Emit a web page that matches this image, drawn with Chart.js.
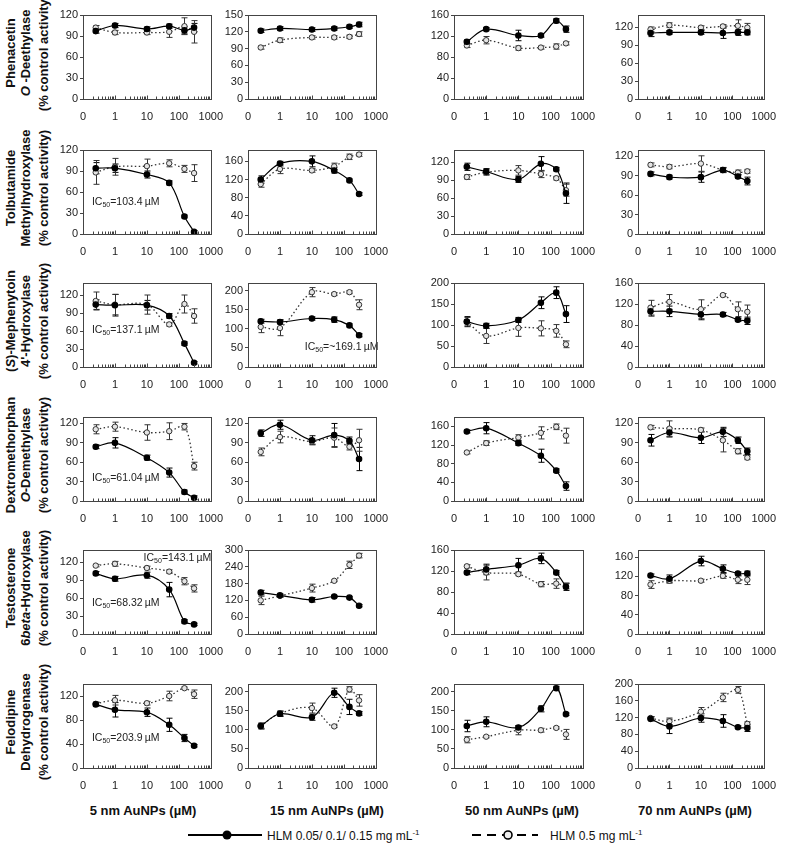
<!DOCTYPE html>
<html>
<head>
<meta charset="utf-8">
<script src="https://cdn.jsdelivr.net/npm/chart.js@4.4.1/dist/chart.umd.min.js"></script>
<style>
body { margin: 0; background: #fff; width: 785px; height: 845px; position: relative; overflow: hidden;
       font-family: "Liberation Sans", Arial, sans-serif; color: #111; }
canvas { position: absolute; }
.rowlab, .ylab { position: absolute; transform: translate(-50%, -50%) rotate(-90deg); white-space: nowrap;
       text-align: center; font-weight: bold; font-size: 13px; line-height: 15px; }
.collab { position: absolute; transform: translate(-50%, -50%); font-weight: bold; font-size: 13px; white-space: nowrap; }
.legend { position: absolute; top: 826px; height: 18px; font-size: 12px; white-space: nowrap; }
.legend svg { position: absolute; top: 0; }
.legend span { position: absolute; top: 2px; }
sup { font-size: 8px; }
</style>
</head>
<body>
<div class="legend" style="left:186px">
  <svg width="80" height="18"><line x1="2" y1="9" x2="76" y2="9" stroke="#000" stroke-width="2"/><circle cx="41" cy="9" r="4.5" fill="#000"/></svg>
  <span style="left:81px">HLM 0.05/ 0.1/ 0.15 mg mL<sup>-1</sup></span>
</div>
<div class="legend" style="left:470px">
  <svg width="72" height="18"><line x1="2" y1="9" x2="68" y2="9" stroke="#000" stroke-width="2" stroke-dasharray="9 6"/><circle cx="38" cy="9" r="4" fill="#eee" stroke="#000" stroke-width="1.6"/></svg>
  <span style="left:80px">HLM 0.5 mg mL<sup>-1</sup></span>
</div>
<script>
// concentrations (µM) and axis labels
const conc = [0.25, 1, 10, 50, 150, 300];
const xTicks = [0.1, 1, 10, 100, 1000];
const rowNames = [
    ['Phenacetin', '<i>O</i> -Deethylase'],
    ['Tolbutamide', 'Methylhydroxylase'],
    ['(<i>S</i>)-Mephenytoin', "4'-Hydroxylase"],
    ['Dextromethorphan', '<i>O</i>-Demethylase'],
    ['Testosterone', '6<i>beta</i>-Hydroxylase'],
    ['Felodipine', 'Dehydrogenase']
];
const colNames = ['5 nm AuNPs (µM)', '15 nm AuNPs (µM)', '50 nm AuNPs (µM)', '70 nm AuNPs (µM)'];
const yMax = [[120, 150, 160, 140], [120, 185, 140, 130], [140, 220, 200, 160],
              [130, 130, 180, 130], [140, 300, 160, 175], [140, 220, 220, 200]];
const yStep = [[30, 30, 40, 30], [30, 40, 30, 30], [30, 50, 50, 40],
               [30, 30, 40, 30], [30, 60, 40, 40], [40, 50, 50, 40]];

// HLM 0.05/0.1/0.15 mg/mL (solid) and 0.5 mg/mL (open) -- one inner array per particle size
const phenacetinLow = [[97, 105, 100, 104, 98, 102], [122, 126, 124, 126, 129, 133], [109, 133, 121, 121, 149, 133], [110, 111, 111, 110, 111, 111]];
const phenacetinLowErr = [[3, 3, 3, 3, 5, 6], [3, 3, 3, 3, 3, 4], [4, 3, 10, 3, 4, 6], [6, 3, 3, 9, 5, 4]];
const phenacetinHigh = [[102, 95, 95, 96, 104, 96], [92, 105, 110, 110, 111, 116], [102, 112, 97, 98, 100, 106], [116, 123, 119, 121, 122, 119]];
const phenacetinHighErr = [[3, 3, 3, 8, 12, 16], [3, 4, 3, 3, 3, 4], [4, 7, 4, 3, 5, 3], [4, 4, 3, 3, 10, 7]];

const tolbutamideLow = [[94, 94, 85, 73, 25, 3], [120, 155, 160, 140, 118, 88], [112, 104, 91, 117, 108, 68], [93, 88, 88, 99, 89, 82]];
const tolbutamideLowErr = [[8, 6, 5, 3, 2, 2], [8, 5, 12, 6, 3, 3], [6, 5, 5, 12, 3, 17], [3, 3, 8, 4, 3, 6]];
const tolbutamideHigh = [[88, 96, 97, 101, 93, 87], [110, 143, 140, 149, 170, 175], [95, 103, 106, 100, 93, 73], [107, 104, 109, 99, 95, 97]];
const tolbutamideHighErr = [[17, 12, 10, 5, 5, 12], [7, 10, 4, 7, 6, 4], [4, 5, 8, 6, 3, 10], [3, 3, 12, 3, 4, 3]];

const mephenytoinLow = [[104, 103, 103, 85, 39, 7], [120, 118, 127, 124, 109, 83], [108, 98, 112, 153, 177, 126], [106, 106, 100, 100, 90, 88]];
const mephenytoinLowErr = [[8, 18, 8, 4, 3, 2], [5, 6, 4, 7, 4, 4], [12, 6, 6, 14, 14, 20], [9, 10, 10, 4, 3, 7]];
const mephenytoinHigh = [[110, 104, 104, 71, 105, 85], [105, 102, 196, 191, 196, 163], [108, 74, 93, 92, 86, 54], [113, 124, 110, 137, 110, 105]];
const mephenytoinHighErr = [[15, 17, 16, 3, 15, 12], [15, 20, 12, 4, 4, 13], [10, 18, 20, 18, 15, 8], [14, 14, 18, 3, 14, 13]];

const dextroLow = [[84, 90, 67, 44, 14, 5], [105, 118, 94, 102, 93, 65], [149, 156, 124, 97, 65, 32], [94, 106, 98, 107, 94, 77]];
const dextroLowErr = [[3, 8, 4, 7, 3, 3], [5, 7, 7, 18, 6, 18], [3, 12, 5, 14, 4, 9], [9, 7, 9, 7, 5, 5]];
const dextroHigh = [[111, 115, 106, 108, 115, 54], [76, 99, 92, 98, 84, 94], [104, 124, 136, 146, 159, 140], [114, 112, 110, 94, 77, 67]];
const dextroHighErr = [[7, 7, 12, 13, 5, 6], [6, 9, 4, 15, 5, 17], [3, 5, 6, 13, 6, 16], [3, 12, 3, 18, 4, 3]];

const testosteroneLow = [[101, 92, 98, 74, 21, 16], [148, 138, 122, 134, 130, 101], [117, 123, 131, 144, 117, 90], [122, 115, 152, 136, 126, 126]];
const testosteroneLowErr = [[3, 4, 5, 12, 3, 2], [8, 5, 8, 4, 4, 4], [4, 10, 13, 10, 4, 7], [3, 8, 10, 8, 3, 5]];
const testosteroneHigh = [[114, 117, 110, 104, 88, 76], [120, 136, 164, 190, 247, 280], [129, 117, 114, 95, 96, 91], [103, 111, 111, 121, 113, 113]];
const testosteroneHighErr = [[2, 4, 3, 3, 6, 6], [15, 5, 14, 3, 13, 8], [3, 14, 3, 5, 9, 5], [8, 5, 3, 5, 8, 10]];

const felodipineLow = [[106, 97, 93, 72, 50, 37], [110, 142, 133, 197, 160, 143], [110, 121, 106, 155, 209, 141], [117, 99, 119, 112, 97, 95]];
const felodipineLowErr = [[3, 12, 7, 11, 6, 2], [8, 7, 8, 12, 20, 5], [15, 13, 5, 8, 5, 3], [5, 17, 10, 15, 3, 8]];
const felodipineHigh = [[107, 113, 108, 120, 133, 123], [110, 143, 157, 109, 206, 177], [74, 82, 99, 99, 105, 88], [119, 111, 134, 168, 186, 105]];
const felodipineHighErr = [[3, 8, 3, 8, 2, 7], [6, 6, 13, 3, 7, 15], [8, 3, 12, 5, 3, 13], [3, 8, 10, 10, 8, 5]];

// IC50 notes: panel row/col, anchor in data units, value
const ic50Notes = [
    { row: 1, col: 0, x: 0.19, y: 45, text: '=103.4\u2009µM' },
    { row: 2, col: 0, x: 0.19, y: 62, text: '=137.1\u2009µM' },
    { row: 2, col: 1, x: 6.0, y: 53, text: '=~169.1\u2009µM' },
    { row: 3, col: 0, x: 0.19, y: 36, text: '=61.04\u2009µM' },
    { row: 4, col: 0, x: 7.9, y: 126, text: '=143.1\u2009µM' },
    { row: 4, col: 0, x: 0.19, y: 52, text: '=68.32\u2009µM' },
    { row: 5, col: 0, x: 0.19, y: 50, text: '=203.9\u2009µM' }
];

const lowRows = [phenacetinLow, tolbutamideLow, mephenytoinLow, dextroLow, testosteroneLow, felodipineLow];
const lowErrRows = [phenacetinLowErr, tolbutamideLowErr, mephenytoinLowErr, dextroLowErr, testosteroneLowErr, felodipineLowErr];
const highRows = [phenacetinHigh, tolbutamideHigh, mephenytoinHigh, dextroHigh, testosteroneHigh, felodipineHigh];
const highErrRows = [phenacetinHighErr, tolbutamideHighErr, mephenytoinHighErr, dextroHighErr, testosteroneHighErr, felodipineHighErr];

// panel geometry
const PAD_T = 10, PAD_R = 16, Y_W = 30, X_H = 26;
const boxLeft = [83, 248, 454, 638];
const boxWidth = [135, 135, 136, 133];
const boxTop = [15, 150, 283, 417, 550, 684];
const boxHeight = 84;
const FONT = '"Liberation Sans", Arial, sans-serif';

Chart.defaults.font.family = FONT;
Chart.defaults.font.size = 11;
Chart.defaults.color = '#222';

// vertical error bars, drawn under the markers
const errorBars = {
    id: 'errorBars',
    beforeDatasetsDraw(chart) {
        const { ctx, scales: { x, y } } = chart;
        chart.data.datasets.forEach(ds => {
            ctx.save();
            ctx.strokeStyle = ds.borderColor;
            ctx.lineWidth = 1;
            ctx.beginPath();
            ds.data.forEach((p, i) => {
                const e = ds.err[i];
                const px = Math.round(x.getPixelForValue(p.x)) + 0.5;
                const top = y.getPixelForValue(p.y + e);
                const bot = y.getPixelForValue(p.y - e);
                ctx.moveTo(px, top); ctx.lineTo(px, bot);
                ctx.moveTo(px - 3, top); ctx.lineTo(px + 3, top);
                ctx.moveTo(px - 3, bot); ctx.lineTo(px + 3, bot);
            });
            ctx.stroke();
            ctx.restore();
        });
    }
};

// box around the plot and inward log minor ticks
const frame = {
    id: 'frame',
    afterDraw(chart) {
        const { ctx, chartArea: a, scales: { x } } = chart;
        const l = Math.round(a.left) + 0.5, t = Math.round(a.top) + 0.5;
        const r = Math.round(a.right) + 0.5, b = Math.round(a.bottom) + 0.5;
        ctx.save();
        ctx.strokeStyle = '#444';
        ctx.lineWidth = 1;
        ctx.strokeRect(l, t, r - l, b - t);
        ctx.beginPath();
        for (let d = -1; d < 3; d++) {
            for (let k = 1; k < 10; k++) {
                const px = Math.round(x.getPixelForValue(k * Math.pow(10, d))) + 0.5;
                ctx.moveTo(px, b);
                ctx.lineTo(px, b - (k === 1 ? 4 : 3));
            }
        }
        ctx.stroke();
        ctx.restore();
    }
};

function notesPlugin(notes) {
    return {
        id: 'ic50',
        afterDatasetsDraw(chart) {
            const { ctx, scales: { x, y } } = chart;
            ctx.save();
            ctx.fillStyle = '#222';
            ctx.textBaseline = 'middle';
            notes.forEach(n => {
                const px = x.getPixelForValue(n.x), py = y.getPixelForValue(n.y);
                ctx.font = '10.5px ' + FONT;
                ctx.fillText('IC', px, py);
                let w = ctx.measureText('IC').width;
                ctx.font = '7px ' + FONT;
                ctx.fillText('50', px + w, py + 3);
                w += ctx.measureText('50').width;
                ctx.font = '10.5px ' + FONT;
                ctx.fillText(n.text, px + w, py);
            });
            ctx.restore();
        }
    };
}

function makePanel(r, c) {
    const cv = document.createElement('canvas');
    cv.width = Y_W + boxWidth[c] + PAD_R;
    cv.height = PAD_T + boxHeight + X_H;
    cv.style.left = (boxLeft[c] - Y_W) + 'px';
    cv.style.top = (boxTop[r] - PAD_T) + 'px';
    document.body.appendChild(cv);

    const low = lowRows[r][c], high = highRows[r][c];
    new Chart(cv, {
        type: 'line',
        data: {
            datasets: [{
                label: 'HLM 0.05/ 0.1/ 0.15 mg mL-1',
                data: conc.map((v, i) => ({ x: v, y: low[i] })),
                err: lowErrRows[r][c],
                borderColor: '#000',
                borderWidth: 1.2,
                tension: 0.35,
                pointRadius: 2.7,
                pointBackgroundColor: '#000',
                pointBorderColor: '#000'
            }, {
                label: 'HLM 0.5 mg mL-1',
                data: conc.map((v, i) => ({ x: v, y: high[i] })),
                err: highErrRows[r][c],
                borderColor: '#333',
                borderWidth: 1.3,
                borderDash: [1.5, 2.5],
                tension: 0.35,
                pointRadius: 2.7,
                pointBorderWidth: 1,
                pointBackgroundColor: '#e4e4e4',
                pointBorderColor: '#333'
            }]
        },
        options: {
            responsive: false,
            animation: false,
            events: [],
            layout: { padding: { top: PAD_T, right: PAD_R, left: 0, bottom: 0 } },
            plugins: { legend: { display: false }, tooltip: { enabled: false } },
            scales: {
                x: {
                    type: 'logarithmic',
                    min: 0.1,
                    max: 1000,
                    afterBuildTicks: s => { s.ticks = xTicks.map(v => ({ value: v })); },
                    afterFit: s => { s.height = X_H; },
                    grid: { display: false, drawTicks: false },
                    border: { color: '#444' },
                    ticks: {
                        autoSkip: false,
                        maxRotation: 0,
                        padding: 11,
                        callback: v => (v < 0.5 ? '0' : String(v))
                    }
                },
                y: {
                    min: 0,
                    max: yMax[r][c],
                    afterFit: s => { s.width = Y_W; },
                    grid: { drawOnChartArea: false, tickLength: 3, color: '#444' },
                    border: { color: '#444' },
                    ticks: { stepSize: yStep[r][c], includeBounds: false, padding: 2 }
                }
            }
        },
        plugins: [errorBars, frame, notesPlugin(ic50Notes.filter(n => n.row === r && n.col === c))]
    });
}

for (let r = 0; r < 6; r++) {
    for (let c = 0; c < 4; c++) makePanel(r, c);
    const cy = boxTop[r] + boxHeight / 2 - 4;
    const lab = document.createElement('div');
    lab.className = 'rowlab';
    lab.style.left = '17.5px';
    lab.style.top = cy + 'px';
    lab.innerHTML = rowNames[r].join('<br>');
    document.body.appendChild(lab);
    const yl = document.createElement('div');
    yl.className = 'ylab';
    yl.style.left = '43px';
    yl.style.top = cy + 'px';
    yl.textContent = '(% control activity)';
    document.body.appendChild(yl);
}

const colCenters = [143, 327, 522, 695];
colNames.forEach((name, c) => {
    const d = document.createElement('div');
    d.className = 'collab';
    d.style.left = colCenters[c] + 'px';
    d.style.top = '810px';
    d.textContent = name;
    document.body.appendChild(d);
});
</script>
</body>
</html>
